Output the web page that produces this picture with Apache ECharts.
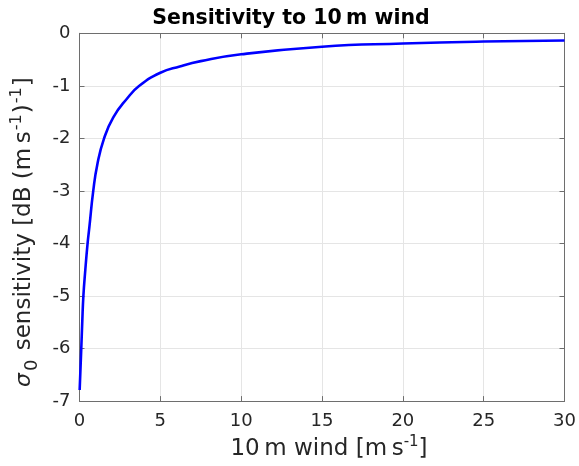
<!DOCTYPE html>
<html>
<head>
<meta charset="utf-8">
<script src="https://cdn.jsdelivr.net/npm/echarts@6/dist/echarts.min.js"></script>
<style>
  html, body { margin: 0; padding: 0; background: #ffffff; }
  #chart { width: 579px; height: 466px; }
</style>
</head>
<body>
<div id="chart"></div>
<script>
// 10 m wind speed [m s^-1] and sigma0 sensitivity [dB (m s^-1)^-1]
const windSpeed = [0.01, 0.11, 0.17, 0.24, 0.36, 0.5, 0.61, 0.85, 1.1, 1.52, 2.09, 2.92, 3.7, 5.0, 6.2, 7.5, 10, 15, 20, 25, 30];
const sensitivity = [-6.79, -6.0, -5.5, -5.0, -4.5, -4.0, -3.69, -3.0, -2.5, -2.0, -1.6, -1.25, -1.0, -0.75, -0.63, -0.53, -0.40, -0.255, -0.195, -0.157, -0.138];

const xTicks = [0, 5, 10, 15, 20, 25, 30];
const yTicks = [-7, -6, -5, -4, -3, -2, -1, 0];

const FONT = 'DejaVu Sans';
const TEXT = '#262626';
const AXIS = '#6e6e6e';

const points = windSpeed.map((u, i) => [u, sensitivity[i]]);

const chart = echarts.init(document.getElementById('chart'), null, { renderer: 'canvas' });

const baseX = {
  type: 'value',
  min: xTicks[0],
  max: xTicks[xTicks.length - 1],
  interval: 5,
  axisLine: { show: true, onZero: false, lineStyle: { color: AXIS, width: 1 } },
  axisTick: { show: true, inside: true, length: 5, lineStyle: { color: AXIS } },
};
const baseY = {
  type: 'value',
  min: yTicks[0],
  max: yTicks[yTicks.length - 1],
  interval: 1,
  axisLine: { show: true, onZero: false, lineStyle: { color: AXIS, width: 1 } },
  axisTick: { show: true, inside: true, length: 5, lineStyle: { color: AXIS } },
};

const xNameRich = {
  n: { fontFamily: FONT, fontSize: 23, color: TEXT, lineHeight: 28, verticalAlign: 'bottom' },
  sup: { fontFamily: FONT, fontSize: 15, color: TEXT, lineHeight: 28, verticalAlign: 'bottom', padding: [0, 0, 11, 0] }
};
const yNameRich = {
  n: { fontFamily: FONT, fontSize: 23, color: TEXT, lineHeight: 30, verticalAlign: 'bottom' },
  g: { fontFamily: FONT, fontSize: 22, fontStyle: 'italic', color: TEXT, lineHeight: 30, verticalAlign: 'bottom' },
  sup: { fontFamily: FONT, fontSize: 16, color: TEXT, lineHeight: 30, verticalAlign: 'bottom', padding: [0, 1, 11, 1] },
  sub: { fontFamily: FONT, fontSize: 18, color: TEXT, lineHeight: 30, verticalAlign: 'bottom', padding: [0, 2, -6, 2] }
};

chart.setOption({
  animation: false,
  backgroundColor: '#ffffff',
  title: {
    text: 'Sensitivity to 10\u2009m wind',
    left: 286,
    textAlign: 'center',
    top: 3,
    textStyle: { fontFamily: FONT, fontWeight: 'bold', fontSize: 20.5, color: '#000000' }
  },
  grid: { left: 79.5, right: 14.5, top: 33.3, bottom: 59.5, containLabel: false },
  xAxis: [
    Object.assign({}, baseX, {
      position: 'bottom',
      name: '{n|10\u2009m wind [m\u2009s}{sup|-1}{n|]}',
      nameLocation: 'middle',
      nameGap: 29,
      nameTextStyle: { padding: [0, 0, 0, 14], rich: xNameRich },
      axisLabel: { show: true, margin: 11, fontFamily: FONT, fontSize: 18, color: TEXT, showMinLabel: true, showMaxLabel: true },
      splitLine: { show: true, lineStyle: { color: '#e5e5e5', width: 1 } }
    }),
    Object.assign({}, baseX, {
      position: 'top',
      axisLabel: { show: false },
      splitLine: { show: false }
    })
  ],
  yAxis: [
    Object.assign({}, baseY, {
      position: 'left',
      name: '{g|\u03c3}{sub|0}{n| sensitivity [dB (m\u2009s}{sup|-1}{n|)}{sup|-1}{n|]}',
      nameLocation: 'middle',
      nameRotate: 90,
      nameGap: 40,
      nameTextStyle: { padding: [0, 30, 0, 0], rich: yNameRich },
      axisLabel: { show: true, margin: 9, fontFamily: FONT, fontSize: 18, color: TEXT, showMinLabel: true, showMaxLabel: true },
      splitLine: { show: true, lineStyle: { color: '#e5e5e5', width: 1 } }
    }),
    Object.assign({}, baseY, {
      position: 'right',
      axisLabel: { show: false },
      splitLine: { show: false }
    })
  ],
  series: [{
    type: 'line',
    data: points,
    xAxisIndex: 0,
    yAxisIndex: 0,
    showSymbol: false,
    smooth: 0.5,
    lineStyle: { color: '#0000ff', width: 2.6 },
    clip: true
  }]
});
</script>
</body>
</html>
